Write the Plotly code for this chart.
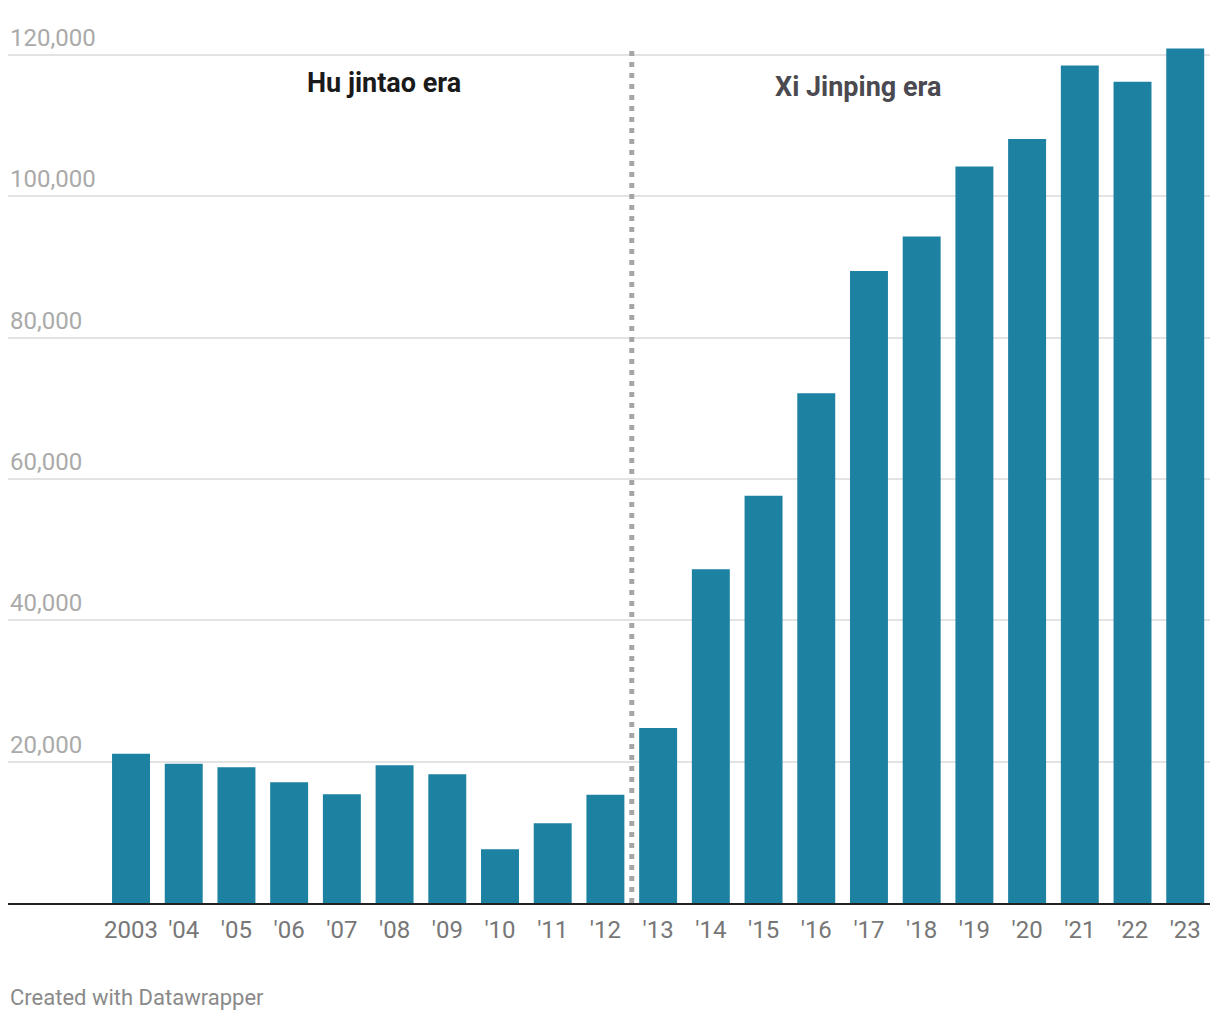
import plotly.graph_objects as go

years = ["2003", "'04", "'05", "'06", "'07", "'08", "'09", "'10", "'11", "'12",
         "'13", "'14", "'15", "'16", "'17", "'18", "'19", "'20", "'21", "'22", "'23"]
values = [21100, 19700, 19200, 17100, 15400, 19500, 18200, 7600, 11300, 15300,
          24750, 47200, 57600, 72100, 89400, 94300, 104200, 108100, 118500, 116200, 120900]
y_ticks = [20000, 40000, 60000, 80000, 100000, 120000]
y_tick_labels = ["20,000", "40,000", "60,000", "80,000", "100,000", "120,000"]
era_labels = ["Hu jintao era", "Xi Jinping era"]

# page has an 8px body margin; figure coordinates are page minus 8
W, H = 1204, 1004
ML, MR, MT, MB = 0, 2, 39, 109

fig = go.Figure()
fig.add_trace(go.Bar(x=years, y=values, marker=dict(color="#1d81a2", line=dict(width=0)),
                     hoverinfo="x+y"))

# era divider between '12 and '13
fig.add_shape(type="line", xref="x", yref="paper", x0=9.5, x1=9.5, y0=0, y1=1,
              line=dict(color="#a6a6a6", width=5, dash="5px,6px"), layer="above")

fig.add_annotation(x=4.8, y=116000, xref="x", yref="y", text="<b>" + era_labels[0] + "</b>",
                   showarrow=False, font=dict(family="Roboto", size=27, color="#1a1a1a"))
fig.add_annotation(x=13.8, y=115400, xref="x", yref="y", text="<b>" + era_labels[1] + "</b>",
                   showarrow=False, font=dict(family="Roboto", size=27, color="#4a4a50"))

# y tick labels above gridlines
for v, t in zip(y_ticks, y_tick_labels):
    fig.add_annotation(x=0, y=v, xref="paper", yref="y", xanchor="left", yanchor="middle",
                       xshift=0, yshift=17, text=t, showarrow=False,
                       font=dict(family="Roboto", size=24, color="#aaaaaa"))

fig.add_annotation(x=0, y=0, xref="paper", yref="paper", xanchor="left", yanchor="middle",
                   xshift=0, yshift=-(997 - 903),
                   text="Created with Datawrapper", showarrow=False,
                   font=dict(family="Roboto", size=22, color="#8a8a8a"))

fig.update_layout(
    width=W, height=H,
    margin=dict(l=ML, r=MR, t=MT, b=MB),
    paper_bgcolor="white", plot_bgcolor="white",
    bargap=0.28, showlegend=False,
    font=dict(family="Roboto"),
    xaxis=dict(type="category", range=[-2.334, 20.47], showgrid=False,
               showline=True, linecolor="#222222", linewidth=2,
               ticks="", ticklabelstandoff=4,
               tickfont=dict(family="Roboto", size=24, color="#777777"),
               fixedrange=True),
    yaxis=dict(range=[0, 121100], tickvals=[0] + y_ticks, showticklabels=False,
               showgrid=True, gridcolor="#e3e3e3", gridwidth=2,
               zeroline=False, showline=False, ticks="",
               fixedrange=True),
)

fig.write_html("out.html")
